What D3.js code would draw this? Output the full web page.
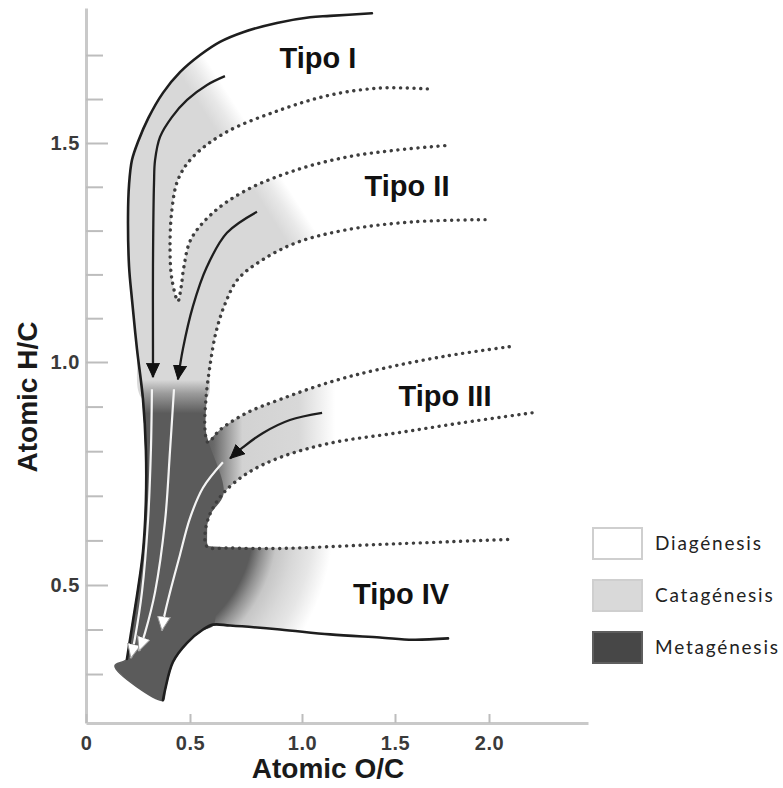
<!DOCTYPE html>
<html lang="es">
<head>
<meta charset="UTF-8">
<title>Diagrama de Van Krevelen</title>
<script src="https://cdn.jsdelivr.net/npm/d3@7"></script>
<style>
  body { margin: 0; background: #fff; }
  .tick-label { font-family: "Liberation Sans", Arial, sans-serif; font-weight: bold; font-size: 20px; letter-spacing: 0.6px; fill: #3a3a3a; }
  .axis-title { font-family: "Liberation Sans", Arial, sans-serif; font-weight: bold; font-size: 28px; fill: #1a1a1a; }
  .type-label { font-family: "Liberation Sans", Arial, sans-serif; font-weight: bold; font-size: 29px; fill: #111; }
  .legend-text { font-family: Lato, "Open Sans", sans-serif; font-size: 19px; letter-spacing: 1.8px; fill: #222; }
</style>
</head>
<body>
<svg id="chart" width="783" height="788"></svg>
<script>
// all points are [O/C, H/C]

// solid envelope lines
const envelopeOuter = [[1.376,1.795],[1.151,1.789],[1.043,1.786],[0.888,1.773],[0.737,1.752],[0.634,1.730],
  [0.545,1.700],[0.452,1.661],[0.370,1.614],[0.300,1.557],[0.252,1.505],[0.221,1.461],[0.207,1.405],
  [0.202,1.332],[0.207,1.218],[0.221,1.143],[0.245,1.030],[0.274,0.916],[0.288,0.802],[0.288,0.689],
  [0.274,0.575],[0.250,0.491],[0.226,0.420],[0.197,0.334]];
const envelopeLower = [[0.370,0.241],[0.380,0.264],[0.418,0.327],[0.486,0.370],[0.558,0.400],[0.603,0.411],
  [0.679,0.409],[0.902,0.400],[1.151,0.389],[1.419,0.382],[1.596,0.377],[1.782,0.380]];
const darkCorner = [[0.139,0.318]];

// dotted boundaries (shared V vertices belong to the first array of each pair)
const dottedI = [[1.672,1.623],[1.419,1.625],[1.151,1.609],[0.902,1.575],[0.656,1.523],[0.509,1.466],
  [0.442,1.416],[0.413,1.348],[0.404,1.257],[0.413,1.189],[0.442,1.139]];
const dottedIIa = [[0.457,1.170],[0.471,1.218],[0.504,1.280],[0.603,1.341],[0.754,1.393],[0.978,1.439],
  [1.242,1.468],[1.511,1.484],[1.793,1.495]];
const dottedIIb = [[1.979,1.325],[1.596,1.320],[1.242,1.302],[0.978,1.273],[0.826,1.234],[0.714,1.189],
  [0.656,1.132],[0.616,1.068],[0.589,0.991],[0.571,0.916],[0.567,0.848],[0.580,0.820]];
const dottedIIIa = [[0.634,0.848],[0.754,0.886],[0.902,0.916],[1.151,0.955],[1.419,0.984],[1.777,1.014],
  [2.128,1.036]];
const dottedIIIb = [[2.229,0.886],[1.862,0.864],[1.511,0.841],[1.151,0.818],[0.902,0.786],[0.754,0.750],
  [0.647,0.705],[0.589,0.659],[0.567,0.614],[0.576,0.586]];
const dottedIV = [[0.679,0.583],[0.902,0.582],[1.419,0.591],[2.101,0.602]];

// maturation paths
const arrowI = [[0.656,1.652],[0.576,1.632],[0.486,1.598],[0.413,1.559],[0.356,1.514],[0.332,1.461],
  [0.327,1.409],[0.322,1.218],[0.322,1.030],[0.322,0.966]];
const arrowII = [[0.799,1.343],[0.665,1.295],[0.576,1.218],[0.513,1.127],[0.466,1.030],[0.442,0.961]];
const arrowIII = [[1.108,0.886],[0.946,0.870],[0.826,0.841],[0.737,0.809],[0.679,0.784]];
const whiteArrows = [
  [[0.317,0.939],[0.312,0.802],[0.298,0.643],[0.269,0.484],[0.236,0.382],[0.216,0.336]],
  [[0.423,0.939],[0.404,0.802],[0.380,0.643],[0.332,0.484],[0.284,0.393],[0.255,0.352]],
  [[0.647,0.775],[0.558,0.718],[0.500,0.650],[0.452,0.568],[0.404,0.484],[0.375,0.427],[0.365,0.398]]
];

const typeNames = ["Tipo I", "Tipo II", "Tipo III", "Tipo IV"];
const typeAnchors = [[1.086,1.670],[1.564,1.380],[1.766,0.902],[1.532,0.457]];

const yTicks = [0.3,0.4,0.5,0.6,0.7,0.8,0.9,1.0,1.1,1.2,1.3,1.4,1.5,1.6,1.7];
const yLabelTicks = [0.5, 1.0, 1.5];
const xTicks = [0, 0.5, 1.0, 1.5, 2.0];

const legendNames = ["Diagénesis", "Catagénesis", "Metagénesis"];
const legendFills = ["#ffffff", "#d9d9d9", "#474747"];

const svg = d3.select("#chart");

// the printed O/C axis is not evenly spaced, so the scale is piecewise
const x = d3.scaleLinear()
  .domain([0, 0.5, 1.0, 1.5, 2.0, 2.527])
  .range([86, 190, 302, 395, 489, 588]);
const y = d3.scaleLinear()
  .domain([0.19, 0.5, 1.0, 1.5, 1.807])
  .range([723, 585, 362, 143, 8]);

const line = d3.line()
  .x(d => x(d[0]))
  .y(d => y(d[1]))
  .curve(d3.curveCatmullRom.alpha(0.5));
const shape = pts => line(pts) + "Z";

// gradients
const defs = svg.append("defs");

function linearGrad(id, p0, p1, stops) {
  const g = defs.append("linearGradient").attr("id", id)
    .attr("gradientUnits", "userSpaceOnUse")
    .attr("x1", x(p0[0])).attr("y1", y(p0[1]))
    .attr("x2", x(p1[0])).attr("y2", y(p1[1]));
  stops.forEach(s => g.append("stop").attr("offset", s[0]).attr("stop-color", s[1]));
}

linearGrad("fade-12", [0.586, 1.552], [0.700, 1.589],
  [[0, "#d8d8d8"], [0.5, "#e8e8e8"], [1, "#ffffff"]]);
linearGrad("fade-3", [0.565, 0.8], [1.2, 0.8],
  [[0, "#5b5b5b"], [0.07, "#6a6a6a"], [0.28, "#d2d2d2"], [0.7, "#d8d8d8"], [0.97, "#ffffff"]]);
linearGrad("dark-top", [0.3, 0.96], [0.3, 0.885],
  [[0, "#d8d8d8"], [0.4, "#9c9c9c"], [1, "#5b5b5b"]]);

const rg = defs.append("radialGradient").attr("id", "fade-4")
  .attr("gradientUnits", "userSpaceOnUse")
  .attr("cx", x(0.163)).attr("cy", y(0.643)).attr("r", 220);
[[0, "#5b5b5b"], [0.61, "#5b5b5b"], [0.66, "#909090"], [0.72, "#c6c6c6"], [0.8, "#d8d8d8"],
 [0.88, "#e6e6e6"], [0.97, "#ffffff"]]
  .forEach(s => rg.append("stop").attr("offset", s[0]).attr("stop-color", s[1]));

function marker(id, fill, stroke) {
  defs.append("marker").attr("id", id)
    .attr("viewBox", "0 -7 15 14")
    .attr("refX", 14).attr("refY", 0)
    .attr("markerWidth", 15).attr("markerHeight", 14)
    .attr("markerUnits", "userSpaceOnUse")
    .attr("orient", "auto")
    .append("path")
    .attr("d", "M0,-6.5L14,0L0,6.5Z")
    .attr("fill", fill)
    .attr("stroke", stroke)
    .attr("stroke-width", 1);
}
marker("head-black", "#111", "#111");
marker("head-white", "#ffffff", "#9a9a9a");

// shaded zones
const vBottom2 = dottedIIb[dottedIIb.length - 1];
const corner4 = dottedIIIb[dottedIIIb.length - 1];

const zoneI_II = [
  ...envelopeOuter.filter(d => d[1] >= 0.9),
  ...dottedIIb.filter(d => d[1] >= 0.9).reverse(),
  ...dottedIIa.slice().reverse(),
  ...dottedI.slice().reverse()
];
const zoneIII = [vBottom2, ...dottedIIIa, ...dottedIIIb];
const zoneIV = [corner4, ...dottedIV, ...envelopeLower.filter(d => d[0] >= 0.6).reverse()];
// the dark zone overlaps the left end of zone III so no seam shows
const zoneMeta = [
  ...envelopeOuter.filter(d => d[1] <= 1.04),
  ...darkCorner,
  ...envelopeLower.filter(d => d[0] <= 0.61),
  corner4,
  ...dottedIIIb.filter(d => d[0] <= 0.65).reverse().slice(1),
  ...dottedIIb.filter(d => d[1] <= 1.0).reverse()
];

const zones = svg.append("g");
zones.append("path").attr("d", shape(zoneI_II)).attr("fill", "url(#fade-12)");
zones.append("path").attr("d", shape(zoneIII)).attr("fill", "url(#fade-3)");
zones.append("path").attr("d", shape(zoneIV)).attr("fill", "url(#fade-4)")
  .attr("stroke", "url(#fade-4)").attr("stroke-width", 1.5);
zones.append("path").attr("d", shape(zoneMeta)).attr("fill", "url(#dark-top)")
  .attr("stroke", "url(#dark-top)").attr("stroke-width", 1.5);

// dotted boundaries
svg.append("g").selectAll("path")
  .data([dottedI.concat(dottedIIa), dottedIIb.concat(dottedIIIa), dottedIIIb.concat(dottedIV)])
  .join("path")
  .attr("d", line)
  .attr("fill", "none")
  .attr("stroke", "#3e3e3e")
  .attr("stroke-width", 3.4)
  .attr("stroke-linecap", "round")
  .attr("stroke-dasharray", "0.1 6.6");

// solid envelopes
svg.append("g").selectAll("path")
  .data([envelopeOuter, envelopeLower])
  .join("path")
  .attr("d", line)
  .attr("fill", "none")
  .attr("stroke", "#1e1e1e")
  .attr("stroke-width", 2.6)
  .attr("stroke-linecap", "round");

// black maturation arrows
svg.append("g").selectAll("path")
  .data([arrowI, arrowII, arrowIII])
  .join("path")
  .attr("d", line)
  .attr("fill", "none")
  .attr("stroke", "#1e1e1e")
  .attr("stroke-width", 2.3)
  .attr("marker-end", "url(#head-black)");

// white arrows inside the metagenesis zone
svg.append("g").selectAll("path")
  .data(whiteArrows)
  .join("path")
  .attr("d", line)
  .attr("fill", "none")
  .attr("stroke", "#f4f4f4")
  .attr("stroke-width", 2.2)
  .attr("marker-end", "url(#head-white)");

// axes
const yAxisG = svg.append("g")
  .attr("transform", `translate(${x(0)},0)`)
  .call(d3.axisLeft(y).tickValues(yTicks).tickSizeInner(-16).tickSizeOuter(0).tickPadding(6)
    .tickFormat(d => yLabelTicks.includes(d) ? d3.format(".1f")(d) : ""));
yAxisG.selectAll(".tick line")
  .attr("x2", d => yLabelTicks.includes(d) ? 22 : 17);

const xAxisG = svg.append("g")
  .attr("transform", `translate(0,${y(0.19)})`)
  .call(d3.axisBottom(x).tickValues(xTicks).tickSizeInner(-9).tickSizeOuter(0).tickPadding(13)
    .tickFormat(d => d === 0 ? "0" : d3.format(".1f")(d)));

[yAxisG, xAxisG].forEach(g => {
  g.select(".domain").attr("stroke", "#c9c9c9").attr("stroke-width", 3);
  g.selectAll(".tick line").attr("stroke", "#bdbdbd").attr("stroke-width", 2);
  g.selectAll(".tick text").attr("class", "tick-label");
});

svg.append("text")
  .attr("class", "axis-title")
  .attr("x", 328)
  .attr("y", 778)
  .attr("text-anchor", "middle")
  .text("Atomic O/C");

svg.append("text")
  .attr("class", "axis-title")
  .attr("transform", "translate(37,397) rotate(-90)")
  .attr("text-anchor", "middle")
  .text("Atomic H/C");

// kerogen type labels
svg.append("g").selectAll("text")
  .data(typeNames)
  .join("text")
  .attr("class", "type-label")
  .attr("x", (d, i) => x(typeAnchors[i][0]))
  .attr("y", (d, i) => y(typeAnchors[i][1]))
  .attr("text-anchor", "middle")
  .text(d => d);

// legend
const legend = svg.append("g")
  .attr("transform", "translate(593,528)")
  .selectAll("g")
  .data(legendNames)
  .join("g")
  .attr("transform", (d, i) => `translate(0,${i * 52})`);

legend.append("rect")
  .attr("width", 49)
  .attr("height", 31)
  .attr("fill", (d, i) => legendFills[i])
  .attr("stroke", (d, i) => i === 2 ? "#5e5e5e" : "#cfcfcf")
  .attr("stroke-width", 2);

legend.append("text")
  .attr("class", "legend-text")
  .attr("x", 62)
  .attr("y", 15.5)
  .attr("dy", "0.35em")
  .text(d => d);
</script>
</body>
</html>
